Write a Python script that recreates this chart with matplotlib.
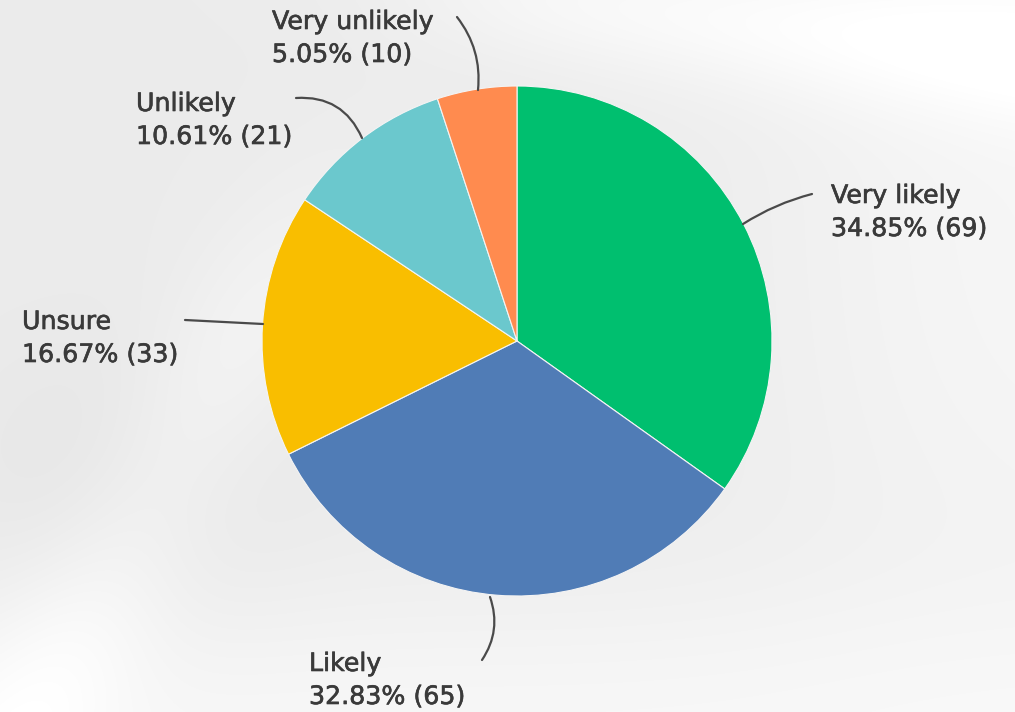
import numpy as np
import matplotlib.pyplot as plt
import matplotlib.patheffects as pe

labels = ['Very likely', 'Likely', 'Unsure', 'Unlikely', 'Very unlikely']
counts = [69, 65, 33, 21, 10]
percents = [34.85, 32.83, 16.67, 10.61, 5.05]
colors = ['#00bf6f', '#507cb6', '#f9be00', '#6bc8cd', '#ff8b4f']

W, H = 1015, 712


def px(x, y):
    # screen-style pixel coords (origin top left) -> data coords
    return x, H - y


def ramp(v):
    return 1.0 / (1.0 + np.exp(-v))


fig = plt.figure(figsize=(W / 100, H / 100), dpi=100)
ax = fig.add_axes([0, 0, 1, 1])

# soft grey backdrop with a few pale swooshes
yy, xx = np.mgrid[0:H, 0:W].astype(float)
bg = np.full((H, W), 0.925)
d1 = (yy - (0.12 * (xx - 560))) / 70.0
bg += 0.05 * np.exp(-d1 ** 2) * ramp((xx - 450) / 60.0)
d2 = (xx - 280 + 0.55 * (yy - 260)) / 90.0
bg += 0.035 * np.exp(-d2 ** 2) * ramp((yy - 220) / 60.0)
bg += 0.045 * ramp((xx - 820) / 90.0) * ramp((560 - yy) / 90.0)
bg += 0.05 * ramp((yy - 620) / 50.0)
bg -= 0.025 * np.exp(-(((xx - 120) / 160.0) ** 2 + ((yy - 480) / 140.0) ** 2))
bg = np.clip(bg, 0, 1)
ax.imshow(np.dstack([bg, bg, bg]), extent=(0, W, 0, H), origin='upper',
          zorder=0, aspect='auto')

cx, cy = px(517, 341)
ax.pie(counts, colors=colors, startangle=90, counterclock=False,
       center=(cx, cy), radius=255, frame=True,
       wedgeprops=dict(edgecolor='#f4f4f4', linewidth=0.8, zorder=2))
ax.set_xlim(0, W)
ax.set_ylim(0, H)
ax.axis('off')

# label text positions (left edge, first line centre)
label_pos = {
    'Very likely': (831, 196),
    'Likely': (309, 664),
    'Unsure': (22, 322),
    'Unlikely': (136, 104),
    'Very unlikely': (272, 22),
}
thick = [pe.withStroke(linewidth=0.45, foreground='#3a3a3a')]
for lab, n, p in zip(labels, counts, percents):
    x, y = label_pos[lab]
    ax.text(*px(x, y), lab, fontsize=18.2, color='#3a3a3a',
            va='center', ha='left', zorder=4, path_effects=thick)
    ax.text(*px(x, y + 33), f'{p:.2f}% ({n})', fontsize=18.2,
            color='#3a3a3a', va='center', ha='left', zorder=4,
            path_effects=thick)

# leader lines
leaders = [
    ((812, 194), (743, 224), 0.08),
    ((490, 597), (482, 660), -0.25),
    ((185, 320), (263, 324), 0.0),
    ((296, 98), (362, 138), -0.35),
    ((457, 17), (478, 90), -0.2),
]
for start, end, rad in leaders:
    ax.annotate('', xy=px(*end), xytext=px(*start),
                arrowprops=dict(arrowstyle='-', color='#4a4a4a', lw=1.6,
                                connectionstyle=f'arc3,rad={rad}',
                                shrinkA=0, shrinkB=0),
                zorder=3)

fig.savefig('out.png', dpi=100)
